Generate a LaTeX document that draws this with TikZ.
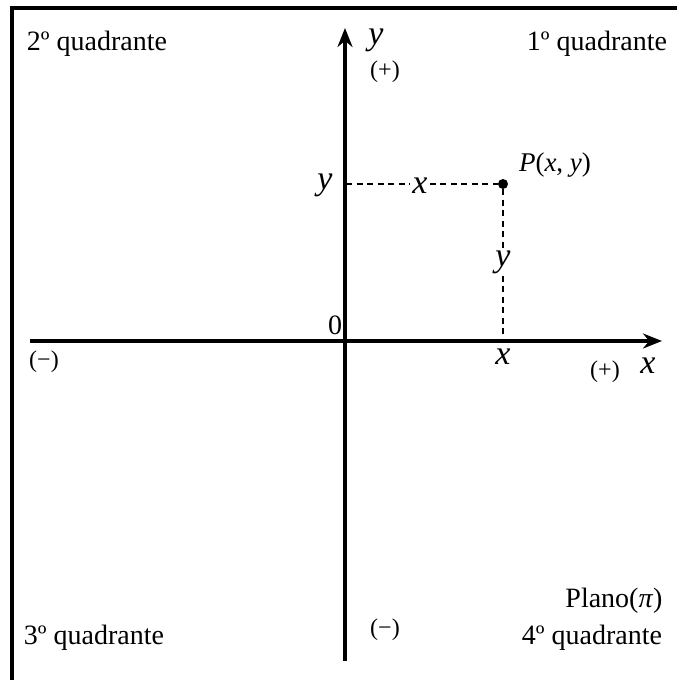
\documentclass[tikz,border=0pt]{standalone}
\usepackage{fontspec}
\setmainfont{Liberation Serif}
\usetikzlibrary{arrows.meta,positioning}

\begin{document}
\begin{tikzpicture}[
  x=1pt, y=-1pt,
  axis/.style={line width=3.5pt, -{Stealth[length=19pt,width=15pt]}},
  guide/.style={line width=1.4pt, dash pattern=on 6pt off 4.5pt},
  frame/.style={line width=4pt},
  txt/.style={font=\fontsize{28}{30}\selectfont, inner sep=1pt},
  sgn/.style={font=\fontsize{24}{26}\selectfont, inner sep=1pt},
  var/.style={font=\fontsize{34}{36}\selectfont\itshape, inner sep=2pt},
  dot/.style={circle, fill=black, inner sep=0pt, minimum size=10pt},
]
  \useasboundingbox (0,0) rectangle (677,680);
  % frame (only top and left sides show)
  \draw[frame] (12,680) -- (12,8) -- (677,8);

  % axes
  \coordinate (xL) at (30,341);
  \coordinate (xR) at (662,341);
  \coordinate (yB) at (345,661);
  \coordinate (yT) at (345,28);
  \draw[axis] (xL) -- (xR);
  \draw[axis] (yB) -- (yT);

  % point and projections
  \node[dot] (P) at (503,184) {};
  \coordinate (Py) at (346,184);
  \coordinate (Px) at (503,341);
  \node[var] (xlab) at (420,186) {x};
  \node[var] (ylab) at (503,262) {y};
  \draw[guide] (Py) -- (Py -| xlab.west) (Py -| xlab.east) -- (P);
  \draw[guide] (P) -- (P |- ylab.north) (P |- ylab.south) -- (Px);
  \node[txt, font=\fontsize{27}{30}\selectfont] (Plab) at (555,165) {\textit{P}(\textit{x}, \textit{y})};

  % axis values
  \node[var] (yval) at (325,185) {y};
  \node[var] (xval) at (503,357) {x};
  \node[txt] (orig) at (335,325) {0};

  % axis names and signs
  \node[var] (yname) at (376,40) {y};
  \node[sgn] (ypos) at (385,72) {(+)};
  \node[sgn] (yneg) at (385,630) {(−)};
  \node[var] (xname) at (648,366) {x};
  \node[sgn] (xpos) at (605,372) {(+)};
  \node[sgn] (xneg) at (44,362) {(−)};

  % quadrants
  \node[txt] (q2) at (97,44) {2º quadrante};
  \node[txt] (q1) at (597,44) {1º quadrante};
  \node[txt] (q3) at (94,638) {3º quadrante};
  \node[txt] (q4) at (592,638) {4º quadrante};
  \node[txt] (plano) at (614,601) {Plano(\textit{π})};
\end{tikzpicture}
\end{document}
